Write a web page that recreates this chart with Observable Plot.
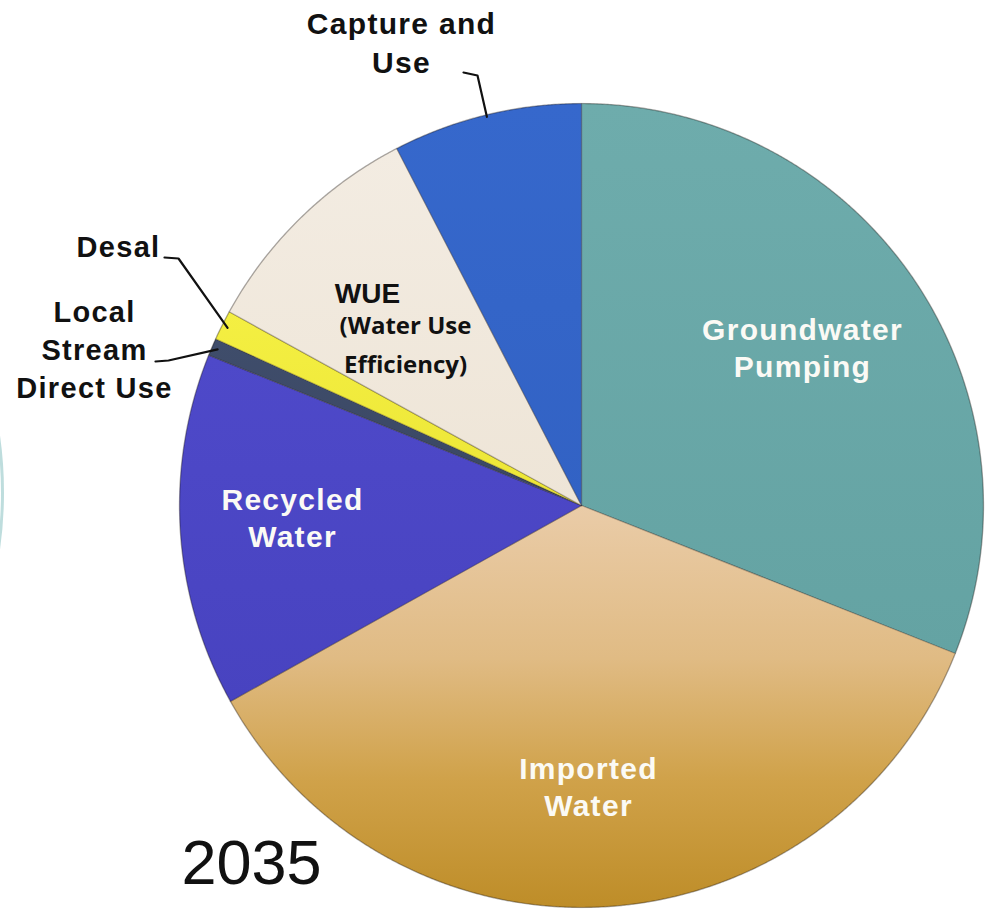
<!DOCTYPE html>
<html>
<head>
<meta charset="utf-8">
<script src="https://cdn.jsdelivr.net/npm/d3@7"></script>
<script src="https://cdn.jsdelivr.net/npm/@observablehq/plot@0.6"></script>
<style>
  html, body { margin: 0; padding: 0; background: #ffffff; }
  #chart svg { display: block; }
</style>
</head>
<body>
<div id="chart"></div>
<script>
// ---------- data ----------
const categories = ["Groundwater Pumping", "Imported Water", "Recycled Water", "Local Stream Direct Use", "Desal", "WUE", "Capture and Use"];
const shares = [31.0, 35.9, 14.2, 0.7, 1.2, 9.4, 7.6]; // percent of 2035 supply, clockwise from 12 o'clock
const sliceLabels = ["Groundwater\nPumping", "Imported\nWater", "Recycled\nWater", "Local\nStream\nDirect Use", "Desal", "WUE", "Capture and\nUse"];
const wueSubLabel = "(Water Use\nEfficiency)";
const yearLabel = "2035";

// ---------- layout ----------
const W = 990, H = 915, CX = 581, CY = 505, R = 402;
const X = px => (px - CX) / R;
const Y = py => (CY - py) / R;

// gradient stops per slice (styles, not data)
const gradients = [
  {id: "g0", stops: [[0, "#6eacac"], [1, "#64a3a3"]]},
  {id: "g1", stops: [[0, "#eacca8"], [0.38, "#e0bb84"], [0.68, "#d0a24a"], [1, "#be8d28"]], user: true},
  {id: "g2", stops: [[0, "#4e49c9"], [1, "#4843c0"]]},
  {id: "g3", stops: [[0, "#3f4d6b"], [1, "#3a4763"]]},
  {id: "g4", stops: [[0, "#f4ef42"], [1, "#ece636"]]},
  {id: "g5", stops: [[0, "#f3ece2"], [1, "#eee5d7"]]},
  {id: "g6", stops: [[0, "#3668cc"], [1, "#3262c4"]]}
];

// ---------- geometry from the values ----------
const total = d3.sum(shares);
let acc = 0;
const slices = categories.map((c, i) => {
  const a0 = acc / total * 2 * Math.PI;
  acc += shares[i];
  const a1 = acc / total * 2 * Math.PI;
  const n = Math.max(2, Math.ceil((a1 - a0) / (Math.PI / 720)));
  const pts = [{x: 0, y: 0}];
  for (let k = 0; k <= n; k++) {
    const a = a0 + (a1 - a0) * k / n;
    pts.push({x: Math.sin(a), y: Math.cos(a)});
  }
  pts.push({x: 0, y: 0});
  return {category: c, i, a0, a1, mid: (a0 + a1) / 2, pts};
});
const rim = (i, f = 1) => ({x: f * Math.sin(slices[i].mid), y: f * Math.cos(slices[i].mid)});

// leader lines: rim of slice -> elbow -> label
const leaders = [
  {i: 6, pts: [rim(6, 0.995), {x: X(477), y: Y(75)}, {x: X(463), y: Y(72)}]},
  {i: 4, pts: [rim(4, 0.985), {x: X(178), y: Y(258)}, {x: X(164), y: Y(257)}]},
  {i: 3, pts: [rim(3, 0.985), {x: X(168), y: Y(360)}, {x: X(155), y: Y(361)}]}
].flatMap(l => l.pts.map(p => ({...p, k: l.i})));

// label placements (pixel layout -> plot units)
const innerLabels = [
  {t: sliceLabels[0], x: X(802), y: Y(376)},
  {t: sliceLabels[1], x: X(588), y: Y(815)},
  {t: sliceLabels[2], x: X(292), y: Y(546)}
];
const outerLabels = [
  {t: sliceLabels[4], x: X(118), y: Y(256)},
  {t: sliceLabels[3], x: X(94), y: Y(397)}
];

const font = "'Liberation Sans', Arial, Helvetica, sans-serif";

const marks = [
  // neighbouring pie, clipped at the left edge
  Plot.dot([{x: X(-400), y: Y(492)}], {x: "x", y: "y", r: R, fill: "none", stroke: "#6fb3b3", strokeWidth: 3, strokeOpacity: 0.45}),
  // slices
  ...slices.map(s => Plot.line(s.pts, {
    x: "x", y: "y", fill: `url(#${gradients[s.i].id})`,
    stroke: "rgba(40,30,20,0.28)", strokeWidth: 1.2, strokeLinejoin: "round", curve: "linear"
  })),
  // rim
  Plot.dot([{x: 0, y: 0}], {x: "x", y: "y", r: R, fill: "none", stroke: "rgba(0,0,0,0.12)", strokeWidth: 1.5}),
  // leader lines
  Plot.line(leaders, {x: "x", y: "y", z: "k", stroke: "#111", strokeWidth: 2.2}),
  // inner labels (white)
  Plot.text(innerLabels, {
    x: "x", y: "y", text: "t", fill: "#fbfaf5", fontSize: 30, fontWeight: "bold",
    fontFamily: font, lineHeight: 1.22, lineAnchor: "bottom", textAnchor: "middle"
  }),
  // WUE
  Plot.text([{t: sliceLabels[5], x: X(367), y: Y(302)}], {
    x: "x", y: "y", text: "t", fill: "#111", fontSize: 28, fontWeight: 800,
    fontFamily: font, lineAnchor: "bottom", textAnchor: "middle"
  }),
  Plot.text([{t: wueSubLabel, x: X(405), y: Y(372)}], {
    x: "x", y: "y", text: "t", fill: "#111", fontSize: 24, fontWeight: "bold",
    fontFamily: "'Open Sans', 'Noto Sans', sans-serif", lineHeight: 1.62, lineAnchor: "bottom", textAnchor: "middle"
  }),
  // capture label
  Plot.text([{t: sliceLabels[6], x: X(401), y: Y(72)}], {
    x: "x", y: "y", text: "t", fill: "#111", fontSize: 30, fontWeight: "bold",
    fontFamily: font, lineHeight: 1.3, lineAnchor: "bottom", textAnchor: "middle"
  }),
  // outer labels
  Plot.text(outerLabels, {
    x: "x", y: "y", text: "t", fill: "#111", fontSize: 29, fontWeight: "bold",
    fontFamily: font, lineHeight: 1.3, lineAnchor: "bottom", textAnchor: "middle"
  }),
  // year
  Plot.text([{t: yearLabel, x: X(181), y: Y(883)}], {
    x: "x", y: "y", text: "t", fill: "#111", fontSize: 63, fontWeight: "normal",
    fontFamily: font, lineAnchor: "bottom", textAnchor: "start"
  })
];

const svg = Plot.plot({
  width: W, height: H,
  margin: 0,
  x: {domain: [X(0), X(W)], range: [0, W], axis: null},
  y: {domain: [Y(H), Y(0)], range: [H, 0], axis: null},
  style: {background: "#ffffff", overflow: "hidden"},
  marks
});

// gradient definitions
const defs = d3.select(svg).insert("defs", ":first-child");
gradients.forEach(g => {
  const lg = defs.append("linearGradient").attr("id", g.id)
    .attr("x1", 0).attr("x2", 0).attr("y1", 0).attr("y2", 1);
  if (g.user) {
    lg.attr("gradientUnits", "userSpaceOnUse")
      .attr("x1", 0).attr("x2", 0).attr("y1", CY).attr("y2", CY + R);
  }
  g.stops.forEach(([o, c]) => lg.append("stop").attr("offset", o).attr("stop-color", c));
});

// wider tracking for the bold Arial labels, like the original slide
d3.select(svg).selectAll("g[font-weight='bold']")
  .filter(function () { return (this.getAttribute("font-family") || "").includes("Liberation"); })
  .style("letter-spacing", "1.3px");

document.getElementById("chart").appendChild(svg);
</script>
</body>
</html>
